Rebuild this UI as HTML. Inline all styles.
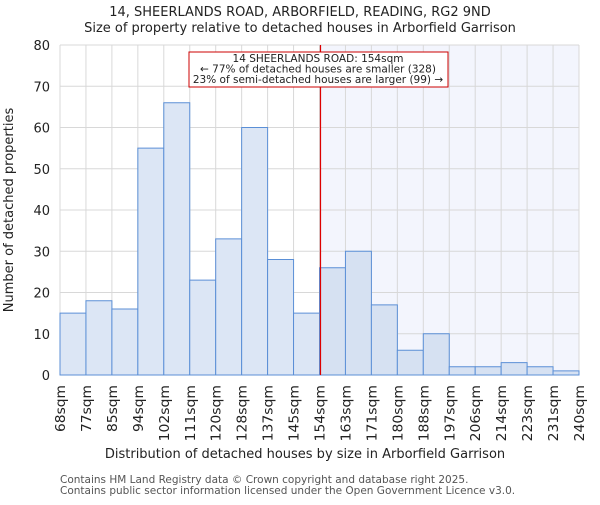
<!DOCTYPE html>
<html><head><meta charset="utf-8"><style>
body{margin:0;background:#fff;}
svg{font-family:"DejaVu Sans","Liberation Sans",sans-serif;}
</style></head><body>
<svg id="c" width="600" height="500">
<text x="300" y="16" text-anchor="middle" font-size="13" fill="#222">14, SHEERLANDS ROAD, ARBORFIELD, READING, RG2 9ND</text>
<text x="300" y="32" text-anchor="middle" font-size="13" fill="#222">Size of property relative to detached houses in Arborfield Garrison</text>
<g id="plot"></g>
<text x="305" y="458" text-anchor="middle" font-size="13" fill="#222">Distribution of detached houses by size in Arborfield Garrison</text>
<text transform="translate(13,210) rotate(-90)" text-anchor="middle" font-size="13" fill="#222">Number of detached properties</text>
<text x="60" y="483" font-size="10.5" fill="#555">Contains HM Land Registry data © Crown copyright and database right 2025.</text>
<text x="60" y="494" font-size="10.5" fill="#555">Contains public sector information licensed under the Open Government Licence v3.0.</text>
</svg>
<script>
const binLabels=["68sqm","77sqm","85sqm","94sqm","102sqm","111sqm","120sqm","128sqm","137sqm","145sqm","154sqm","163sqm","171sqm","180sqm","188sqm","197sqm","206sqm","214sqm","223sqm","231sqm","240sqm"];
const counts=[15,18,16,55,66,23,33,60,28,15,26,30,17,6,10,2,2,3,2,1];
const yTicks=[0,10,20,30,40,50,60,70,80];
const markerIndex=10;
const NS="http://www.w3.org/2000/svg";
const L=60,R=579,T=45,B=375,yMax=80;
const bw=(R-L)/counts.length;
const xs=i=>L+i*bw;
const ys=v=>B-(v/yMax)*(B-T);
const g=document.getElementById('plot');
function mk(t,a){const e=document.createElementNS(NS,t);for(const k in a)e.setAttribute(k,a[k]);g.appendChild(e);return e;}
let e=mk('rect',{x:xs(markerIndex),y:T,width:R-xs(markerIndex),height:B-T,fill:'#f3f5fd'});


yTicks.forEach(v=>{
 let l=mk('line',{x1:L,x2:R,y1:ys(v),y2:ys(v),stroke:'#d8d8d8'});
 
 
 let t=mk('text',{x:L-10,y:ys(v)+5,'text-anchor':'end','font-size':13,fill:'#222'});
 t.textContent=v;
 
 
});
binLabels.forEach((s,i)=>{
 let l=mk('line',{x1:xs(i),x2:xs(i),y1:T,y2:B,stroke:'#d8d8d8'});
 
 
});
counts.forEach((v,i)=>{
 let r=mk('rect',{x:xs(i),y:ys(v),width:bw,height:B-ys(v),fill:i>=markerIndex?'#d6e1f2':'#dce6f5',stroke:'#5b8fd6','stroke-width':1});
 
 
});
binLabels.forEach((s,i)=>{
 let t=mk('text',{transform:`translate(${xs(i)+5},385) rotate(-90)`,'text-anchor':'end','font-size':13.5,fill:'#222',textLength:s.length*9.4,lengthAdjust:'spacingAndGlyphs'});
 t.textContent=s;
 
 
});
let mx=Math.round(xs(markerIndex))+0.5;
let ml=mk('line',{x1:mx,x2:mx,y1:T,y2:B,stroke:'#dd0000','stroke-width':1.2});


let bx=mk('rect',{x:189,y:52,width:259,height:35,fill:'#fff',stroke:'#cc0000'});


["14 SHEERLANDS ROAD: 154sqm","← 77% of detached houses are smaller (328)","23% of semi-detached houses are larger (99) →"].forEach((s,i)=>{
 let t=mk('text',{x:318,y:62+i*10.5,'text-anchor':'middle','font-size':10.5,fill:'#222'});
 t.textContent=s;
 
 
});
</script>
</body></html>
